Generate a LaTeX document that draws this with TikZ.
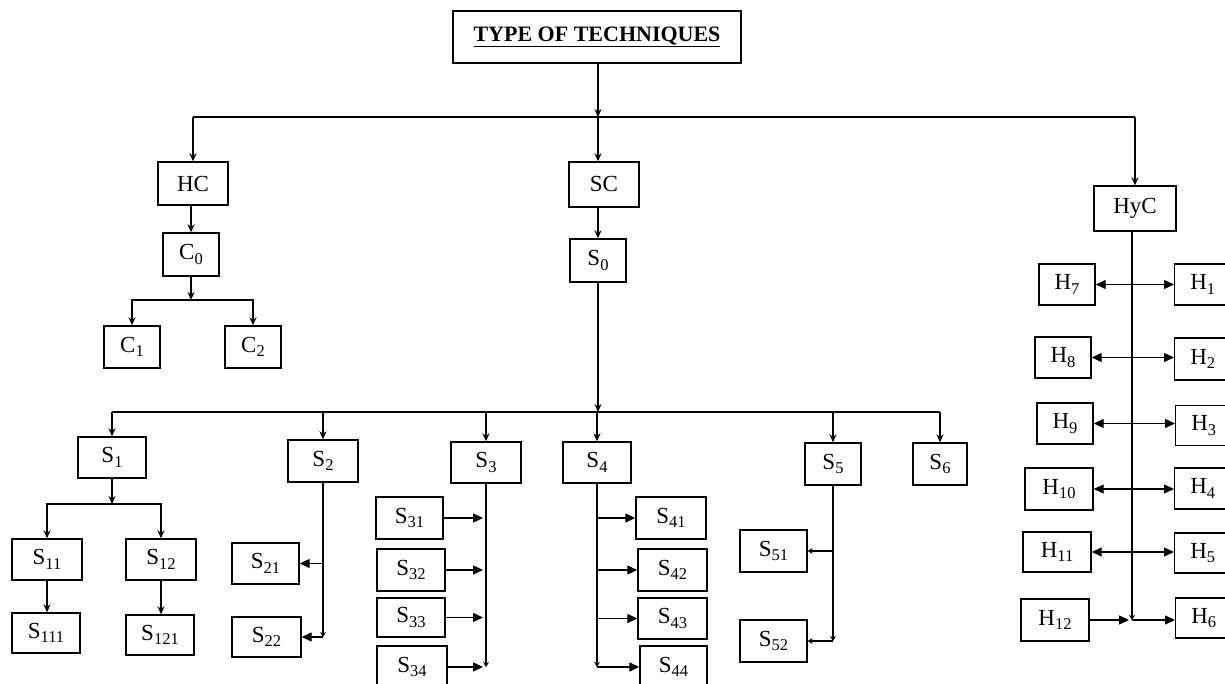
\documentclass[tikz,border=0pt]{standalone}
\usepackage{fontspec}
\setmainfont{Liberation Serif}
\usetikzlibrary{arrows.meta,positioning,calc}
\newcommand{\lab}[2]{#1\raisebox{-0.45ex}{\fontsize{16.5}{16}\selectfont #2}}

\begin{document}
\begin{tikzpicture}[x=1pt, y=-1pt, font=\fontsize{23}{26}\selectfont, line width=1.3pt,
  box/.style={draw, line width=1.4pt, inner sep=0pt, minimum width=#1, minimum height=41pt},
  box/.default=56pt,
  down/.style={-{Stealth[length=8pt,width=7pt]}},
  side/.style={-{Triangle[length=10pt,width=9pt]}},
  both/.style={{Triangle[length=10pt,width=9pt]}-{Triangle[length=10pt,width=9pt]}},
  stub/.style={-{Stealth[length=5pt,width=6pt]}},
]
\useasboundingbox (0,0) rectangle (1225,684);
% title
\node[box=288pt, minimum height=52pt, font=\fontsize{22}{26}\selectfont\bfseries] (title) at (597,37) {\underline{TYPE OF TECHNIQUES}};
% ---- first level ----
\node[box=70pt, minimum height=43pt] (HC) at (193,183.5) {HC};
\node[box=70pt, minimum height=45pt] (SC) at (604,184.5) {SC};
\node[box=82pt, minimum height=45pt] (HyC) at (1135,208.5) {HyC};
\coordinate (bus) at (598,117);
\draw[down] (title.south -| bus) -- (bus);
\draw (HC.north |- bus) -- (HyC.north |- bus);
\draw[down] (bus) -- (bus |- SC.north);
\draw[down] (HC.north |- bus) -- (HC.north);
\draw[down] (HyC.north |- bus) -- (HyC.north);
% ---- HC ----
\node[box, minimum height=43pt] (C0) at (191,254.5) {\lab{C}{0}};
\node[box, minimum height=42pt] (C1) at (132,347) {\lab{C}{1}};
\node[box, minimum height=42pt] (C2) at (253,347) {\lab{C}{2}};
\coordinate (cbus) at (191,300);
\draw[down] (HC.south -| C0) -- (C0.north);
\draw[down] (C0.south) -- (cbus);
\draw[down] (cbus) -| (C1.north);
\draw[down] (cbus) -| (C2.north);
% ---- SC ----
\node[box=56pt, minimum height=43pt] (S0) at (598,260.5) {\lab{S}{0}};
\coordinate (sbus) at (598,412);
\draw[down] (S0.north |- SC.south) -- (S0.north);
\draw[down] (S0.south) -- (sbus);
\node[box=68pt] (S1) at (112,457.5) {\lab{S}{1}};
\node[box=70pt, minimum height=42pt] (S2) at (323,461) {\lab{S}{2}};
\node[box=70pt] (S3) at (486,462.5) {\lab{S}{3}};
\node[box=68pt] (S4) at (597,462.5) {\lab{S}{4}};
\node[box, minimum height=42pt] (S5) at (833,464) {\lab{S}{5}};
\node[box=54pt, minimum height=42pt] (S6) at (940,464) {\lab{S}{6}};
\draw (S1.north |- sbus) -- (S6.north |- sbus);
\foreach \n in {S1,S2,S3,S4,S5,S6}
  \draw[down] (\n.north |- sbus) -- (\n.north);
% S1
\node[box=70pt] (S11) at (47,559.5) {\lab{S}{11}};
\node[box=70pt] (S12) at (161,559.5) {\lab{S}{12}};
\node[box=68pt, minimum height=40pt] (S111) at (46,633) {\lab{S}{111}};
\node[box=68pt, minimum height=40pt] (S121) at (160,635) {\lab{S}{121}};
\coordinate (s1bus) at (112,504);
\draw[down] (S1.south) -- (s1bus);
\draw[down] (s1bus) -| (S11.north);
\draw[down] (s1bus) -| (S12.north);
\draw[down] (S11.south) -- (S11.south |- S111.north);
\draw[down] (S12.south) -- (S12.south |- S121.north);
% S2
\node[box=67pt] (S21) at (265.5,563.5) {\lab{S}{21}};
\node[box=69pt, minimum height=40pt] (S22) at (266.5,637) {\lab{S}{22}};
\draw[stub] (S2.south) -- (S2.south |- S22.east);
\draw[side] (S2.south |- S21.east) -- (S21.east);
\draw[side] (S2.south |- S22.east) -- (S22.east);
% S3
\node[box=67pt, minimum height=42pt] (S31) at (409.5,518) {\lab{S}{31}};
\node[box=68pt, minimum height=42pt] (S32) at (411,570) {\lab{S}{32}};
\node[box=68pt, minimum height=39pt] (S33) at (411,617.5) {\lab{S}{33}};
\node[box=70pt, minimum height=42pt] (S34) at (412,667) {\lab{S}{34}};
\draw[stub] (S3.south) -- (S3.south |- S34.east);
\foreach \n in {S31,S32,S33,S34}
  \draw[side, shorten >=3pt] (\n.east) -- (\n.east -| S3.south);
% S4
\node[box=70pt, minimum height=42pt] (S41) at (671,518) {\lab{S}{41}};
\node[box=69pt, minimum height=42pt] (S42) at (672.5,570) {\lab{S}{42}};
\node[box=69pt, minimum height=41pt] (S43) at (672.5,618.5) {\lab{S}{43}};
\node[box=67pt, minimum height=42pt] (S44) at (673.5,667) {\lab{S}{44}};
\draw[stub] (S4.south) -- (S4.south |- S44.west);
\foreach \n in {S41,S42,S43,S44}
  \draw[side] (\n.west -| S4.south) -- (\n.west);
% S5
\node[box=67pt, minimum height=42pt] (S51) at (773.5,551) {\lab{S}{51}};
\node[box=67pt, minimum height=42pt] (S52) at (773.5,641) {\lab{S}{52}};
\draw[stub] (S5.south) -- (S5.south |- S52.east);
\foreach \n in {S51,S52}
  \draw[stub] (\n.east -| S5.south) -- (\n.east);
% ---- HyC ----
\node[box] (H7) at (1067,284.5) {\lab{H}{7}};
\node[box] (H8) at (1063,357.5) {\lab{H}{8}};
\node[box] (H9) at (1065,423.5) {\lab{H}{9}};
\node[box=68pt, minimum height=42pt] (H10) at (1059,489) {\lab{H}{10}};
\node[box=68pt, minimum height=40pt] (H11) at (1057,552) {\lab{H}{11}};
\node[box=68pt, minimum height=42pt] (H12) at (1055,620) {\lab{H}{12}};
\node[box, anchor=west] (H1) at (1174,284.5) {\lab{H}{1}};
\node[box, anchor=west, minimum height=42pt] (H2) at (1174,359) {\lab{H}{2}};
\node[box, anchor=west, minimum height=40pt] (H3) at (1175,425.5) {\lab{H}{3}};
\node[box, anchor=west] (H4) at (1174,488.5) {\lab{H}{4}};
\node[box, anchor=west, minimum height=40pt] (H5) at (1174,553) {\lab{H}{5}};
\node[box, anchor=west, minimum height=40pt] (H6) at (1175,618) {\lab{H}{6}};
\draw[stub] ([xshift=-3pt]HyC.south) -- ([xshift=-3pt]HyC.south |- H12.east);
\foreach \l/\r in {H7/H1,H8/H2,H9/H3,H10/H4,H11/H5}
  \draw[both] (\l.east) -- (\l.east -| \r.west);
\draw[side, shorten >=3pt] (H12.east) -- ([xshift=-3pt]H12.east -| HyC.south);
\draw[side] ([xshift=-3pt]H12.east -| HyC.south) -- (H12.east -| H6.west);
\end{tikzpicture}
\end{document}
